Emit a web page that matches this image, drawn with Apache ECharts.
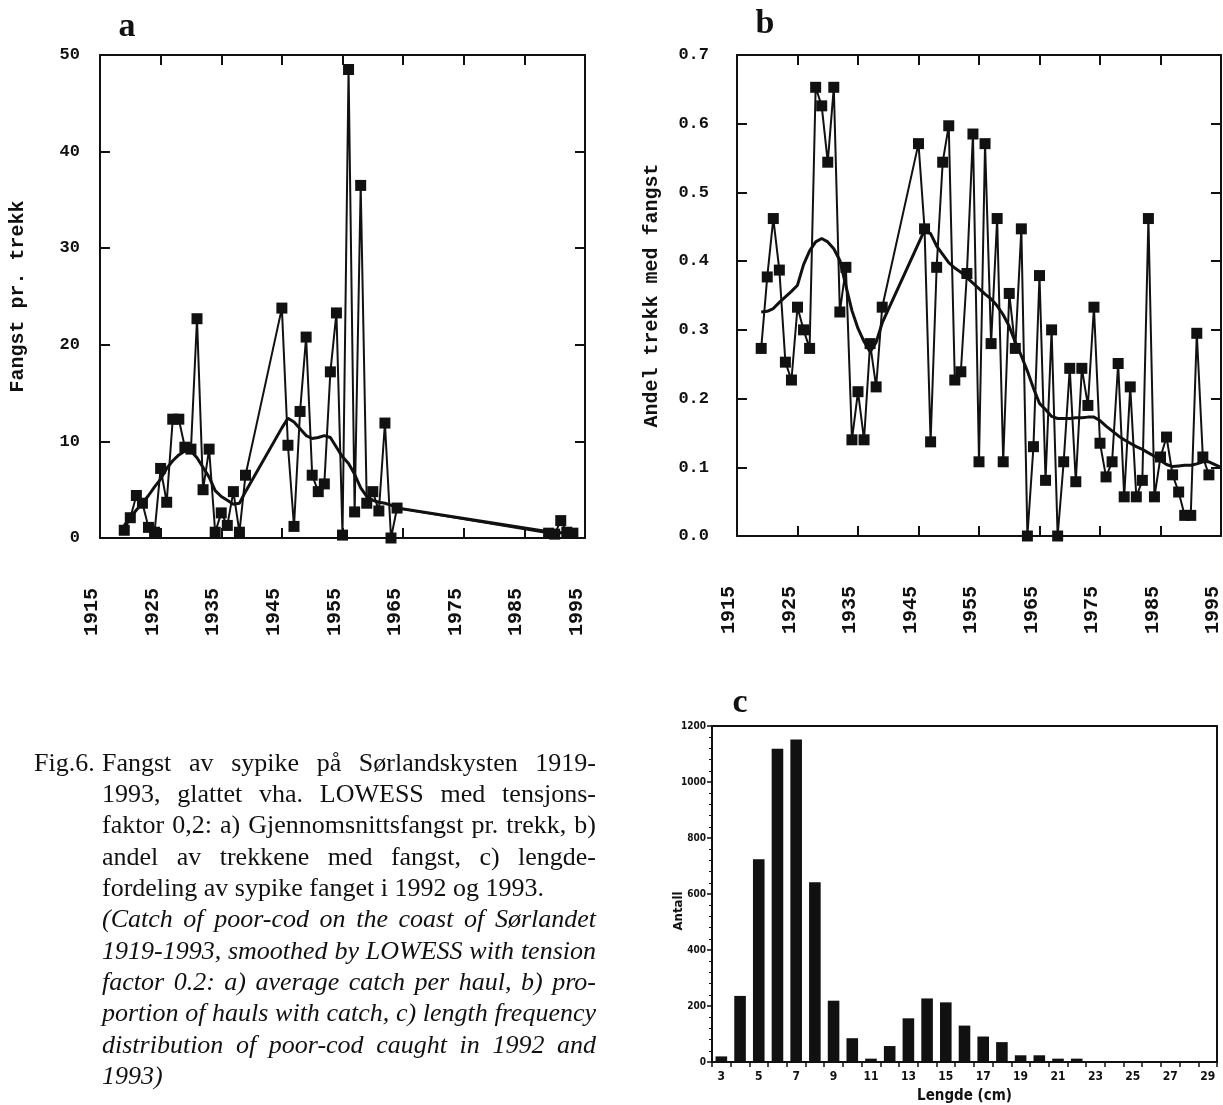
<!DOCTYPE html>
<html>
<head>
<meta charset="utf-8">
<script src="https://cdn.jsdelivr.net/npm/echarts@6/dist/echarts.min.js"></script>
<style>
  html, body { margin: 0; padding: 0; background: #fff; }
  #main { width: 1223px; height: 1105px; }
</style>
</head>
<body>
<div id="main"></div>
<script>
// a) average catch of poor-cod per haul, by year
const yearsA = [1919, 1920, 1921, 1922, 1923, 1924, 1925, 1926, 1927, 1928, 1929, 1930,
  1931, 1932, 1933, 1934, 1935, 1936, 1937, 1938, 1939,
  1945, 1946, 1947, 1948, 1949, 1950, 1951, 1952, 1953, 1954, 1955, 1956, 1957, 1958,
  1959, 1960, 1961, 1962, 1963, 1964,
  1989, 1990, 1991, 1992, 1993];
const catchA = [0.8, 2.1, 4.4, 3.6, 1.1, 0.6, 7.2, 3.7, 12.3, 12.3, 9.4, 9.2,
  22.7, 5.0, 9.2, 0.6, 2.6, 1.3, 4.8, 0.6, 6.5,
  23.8, 9.6, 1.2, 13.1, 20.8, 6.5, 4.8, 5.6, 17.2, 23.3, 0.3, 48.5, 2.7, 36.5,
  3.6, 4.8, 2.8, 11.9, 0, 3.1,
  0.5, 0.4, 1.8, 0.6, 0.5];
// LOWESS curve for a), one value per data year
const smoothA = [1.3, 2.1, 2.9, 3.6, 4.4, 5.3, 6.1, 7.2, 8.0, 8.6, 9.0, 9.0,
  8.3, 7.3, 6.3, 4.9, 4.3, 3.9, 3.5, 3.6, 4.8,
  11.4, 12.4, 12.0, 11.3, 10.6, 10.3, 10.4, 10.6, 10.4, 9.4, 8.4, 7.7, 6.6, 5.2,
  4.3, 3.9, 3.7, 3.6, 3.4, 3.1,
  0.65, 0.6, 0.55, 0.5, 0.45];

// b) share of hauls with catch, by year
const yearsB = [1919, 1920, 1921, 1922, 1923, 1924, 1925, 1926, 1927, 1928, 1929, 1930,
  1931, 1932, 1933, 1934, 1935, 1936, 1937, 1938, 1939,
  1945, 1946, 1947, 1948, 1949, 1950, 1951, 1952, 1953, 1954, 1955, 1956, 1957, 1958,
  1959, 1960, 1961, 1962, 1963, 1964, 1965, 1966, 1967, 1968, 1969, 1970, 1971, 1972,
  1973, 1974, 1975, 1976, 1977, 1978, 1979, 1980, 1981, 1982, 1983, 1984, 1985, 1986,
  1987, 1988, 1989, 1990, 1991, 1992, 1993];
const shareB = [0.273, 0.377, 0.462, 0.387, 0.253, 0.227, 0.333, 0.300, 0.273, 0.653, 0.626, 0.544,
  0.653, 0.326, 0.391, 0.140, 0.210, 0.140, 0.280, 0.217, 0.333,
  0.571, 0.447, 0.137, 0.391, 0.544, 0.597, 0.227, 0.239, 0.382, 0.585, 0.108, 0.571, 0.280, 0.462,
  0.108, 0.353, 0.273, 0.447, 0.000, 0.130, 0.379, 0.081, 0.300, 0.000, 0.108, 0.244, 0.079, 0.244,
  0.190, 0.333, 0.135, 0.086, 0.108, 0.251, 0.057, 0.217, 0.057, 0.081, 0.462, 0.057, 0.115, 0.144,
  0.089, 0.064, 0.030, 0.030, 0.295, 0.115, 0.089];
// LOWESS curve for b); the curve is drawn on to the right edge of the frame
const smoothYearsB = yearsB.concat([1995]);
const smoothB = [0.326, 0.327, 0.331, 0.340, 0.348, 0.356, 0.365, 0.395, 0.415, 0.428, 0.433, 0.428,
  0.418, 0.401, 0.364, 0.328, 0.302, 0.283, 0.268, 0.282, 0.310,
  0.426, 0.445, 0.440, 0.422, 0.410, 0.398, 0.390, 0.384, 0.376, 0.368, 0.360, 0.352, 0.345, 0.335,
  0.322, 0.305, 0.282, 0.262, 0.240, 0.215, 0.193, 0.184, 0.174, 0.171, 0.171, 0.171, 0.172, 0.172,
  0.173, 0.173, 0.168, 0.160, 0.153, 0.146, 0.140, 0.135, 0.130, 0.126, 0.121, 0.116, 0.110, 0.104,
  0.101, 0.102, 0.103, 0.103, 0.105, 0.108, 0.108, 0.100];

// c) length distribution of poor-cod caught in 1992 and 1993
const lengthCm = ['3', '4', '5', '6', '7', '8', '9', '10', '11', '12', '13', '14', '15', '16',
  '17', '18', '19', '20', '21', '22', '23', '24', '25', '26', '27', '28', '29'];
const countC = [20, 236, 724, 1119, 1152, 642, 219, 85, 12, 57, 156, 227, 213, 130,
  91, 71, 24, 24, 12, 12, 3, 3, 3, 3, 1, 3, 3];

const captionLead = 'Fig.6.';
const captionNo = [
  'Fangst av sypike på Sørlandskysten 1919-',
  '1993, glattet vha. LOWESS med tensjons-',
  'faktor 0,2: a) Gjennomsnittsfangst pr. trekk, b)',
  'andel av trekkene med fangst, c) lengde-',
  'fordeling av sypike fanget i 1992 og 1993.'
];
const captionEn = [
  '(Catch of poor-cod on the coast of Sørlandet',
  '1919-1993, smoothed by LOWESS with tension',
  'factor 0.2: a) average catch per haul, b) pro-',
  'portion of hauls with catch, c) length frequency',
  'distribution of poor-cod caught in 1992 and',
  '1993)'
];

const INK = '#111';
const MONO = '"Liberation Mono", "DejaVu Sans Mono", monospace';
const SERIF = '"Liberation Serif", "DejaVu Serif", serif';
const SANS_C = '"DejaVu Sans Condensed", "DejaVu Sans", sans-serif';
const plain = v => String(v);

const frameLine = { show: true, onZero: false, lineStyle: { color: INK, width: 2 } };
const innerTick = { show: true, inside: true, length: 10, lineStyle: { color: INK, width: 2 } };

function yearAxes(gridIndex) {
  const base = { gridIndex, type: 'value', min: 1915, max: 1995, interval: 10,
    axisLine: frameLine, axisTick: innerTick, splitLine: { show: false } };
  return [
    Object.assign({}, base, { position: 'bottom',
      axisLabel: { rotate: 90, margin: 50, color: INK, fontFamily: MONO, fontWeight: 'bold',
        fontSize: 20, verticalAlign: 'bottom', lineHeight: 16, formatter: plain,
        showMinLabel: true, showMaxLabel: true } }),
    Object.assign({}, base, { position: 'top', axisLabel: { show: false } })
  ];
}

function valueAxes(gridIndex, max, interval, name, nameGap, margin, digits) {
  const base = { gridIndex, type: 'value', min: 0, max, interval,
    axisLine: frameLine, axisTick: innerTick, splitLine: { show: false } };
  return [
    Object.assign({}, base, { position: 'left', name, nameLocation: 'middle', nameGap,
      nameTextStyle: { color: INK, fontFamily: MONO, fontWeight: 'bold', fontSize: 20 },
      axisLabel: { margin, color: INK, fontFamily: MONO, fontWeight: 'bold', fontSize: 17,
        formatter: v => v.toFixed(digits) } }),
    Object.assign({}, base, { position: 'right', axisLabel: { show: false } })
  ];
}

function pairs(xs, ys) { return xs.map((x, i) => [x, ys[i]]); }

function markedLine(axisIndex, xs, ys) {
  return { type: 'line', xAxisIndex: axisIndex, yAxisIndex: axisIndex, data: pairs(xs, ys),
    symbol: 'rect', symbolSize: 11, clip: false, z: 3,
    lineStyle: { color: INK, width: 2 }, itemStyle: { color: INK } };
}
function smoothLine(axisIndex, xs, ys) {
  return { type: 'line', xAxisIndex: axisIndex, yAxisIndex: axisIndex, data: pairs(xs, ys),
    symbol: 'none', clip: false, z: 2, lineStyle: { color: INK, width: 3 } };
}

// justified caption, set word by word
const measure = document.createElement('canvas').getContext('2d');
function captionWords(line, y, font, x0, x1, justify) {
  measure.font = font;
  const words = line.split(' ');
  const widths = words.map(w => measure.measureText(w).width);
  const natural = widths.reduce((a, b) => a + b, 0);
  const space = measure.measureText(' ').width;
  const gap = (justify && words.length > 1) ? Math.max(2, (x1 - x0 - natural) / (words.length - 1)) : space;
  const out = [];
  let x = x0;
  words.forEach((w, i) => {
    out.push({ type: 'text', x, y, silent: true,
      style: { text: w, font, fill: INK, align: 'left', verticalAlign: 'middle' } });
    x += widths[i] + gap;
  });
  return out;
}

const CAP_X0 = 102, CAP_X1 = 596, CAP_Y0 = 764, CAP_LH = 31.3;
const roman = '26px ' + SERIF;
const italic = 'italic 26px ' + SERIF;
let captionGraphics = [{ type: 'text', x: 34, y: CAP_Y0, silent: true,
  style: { text: captionLead, font: roman, fill: INK, align: 'left', verticalAlign: 'middle' } }];
captionNo.forEach((line, i) => {
  captionGraphics = captionGraphics.concat(captionWords(line, CAP_Y0 + i * CAP_LH, roman,
    CAP_X0, CAP_X1, i < captionNo.length - 1));
});
captionEn.forEach((line, i) => {
  captionGraphics = captionGraphics.concat(captionWords(line, CAP_Y0 + (i + captionNo.length) * CAP_LH,
    italic, CAP_X0, CAP_X1, i < captionEn.length - 1));
});

function panelLetter(text, x, y) {
  return { type: 'text', x, y, silent: true,
    style: { text, font: 'bold 34px ' + SERIF, fill: INK, align: 'center', verticalAlign: 'middle' } };
}

const [xA, xAtop] = yearAxes(0);
const [xB, xBtop] = yearAxes(1);
const [yA, yAright] = valueAxes(0, 50, 10, 'Fangst pr. trekk', 72, 20, 0);
const [yB, yBright] = valueAxes(1, 0.7, 0.1, 'Andel trekk med fangst', 75, 28, 1);

const option = {
  animation: false,
  backgroundColor: '#fff',
  grid: [
    { left: 100, top: 55, width: 485, height: 483 },
    { left: 737, top: 55, width: 484, height: 481 },
    { left: 712, top: 726, width: 505, height: 337 }
  ],
  xAxis: [
    xA, xAtop, xB, xBtop,
    { gridIndex: 2, type: 'category', data: lengthCm, position: 'bottom',
      axisLine: frameLine,
      axisTick: { show: true, interval: 0, length: 5, lineStyle: { color: INK, width: 1.5 } },
      axisLabel: { interval: 1, margin: 9, color: INK, fontFamily: SANS_C, fontWeight: 'bold', fontSize: 12 },
      name: 'Lengde (cm)', nameLocation: 'middle', nameGap: 27,
      nameTextStyle: { color: INK, fontFamily: SANS_C, fontWeight: 'bold', fontSize: 15 } },
    { gridIndex: 2, type: 'value', min: 0, max: 1, position: 'top', axisLine: frameLine,
      axisTick: { show: false }, axisLabel: { show: false }, splitLine: { show: false } }
  ],
  yAxis: [
    yA, yAright, yB, yBright,
    { gridIndex: 2, type: 'value', min: 0, max: 1200, interval: 200, position: 'left',
      axisLine: frameLine,
      axisTick: { show: true, length: 5, lineStyle: { color: INK, width: 1.5 } },
      minorTick: { show: true, splitNumber: 5, length: 3, lineStyle: { color: INK, width: 1 } },
      axisLabel: { margin: 6, color: INK, fontFamily: SANS_C, fontWeight: 'bold', fontSize: 10,
        formatter: plain },
      splitLine: { show: false },
      name: 'Antall', nameLocation: 'middle', nameGap: 27, nameMoveOverlap: false,
      nameTextStyle: { color: INK, fontFamily: SANS_C, fontWeight: 'bold', fontSize: 13,
        padding: [0, 34, 0, 0] } },
    { gridIndex: 2, type: 'value', min: 0, max: 1200, position: 'right', axisLine: frameLine,
      axisTick: { show: false }, axisLabel: { show: false }, splitLine: { show: false } }
  ],
  series: [
    smoothLine(0, yearsA, smoothA),
    markedLine(0, yearsA, catchA),
    smoothLine(2, smoothYearsB, smoothB),
    markedLine(2, yearsB, shareB),
    { type: 'bar', xAxisIndex: 4, yAxisIndex: 4, data: countC, barWidth: '62%',
      itemStyle: { color: INK } }
  ],
  graphic: [
    panelLetter('a', 127, 27),
    panelLetter('b', 765, 24),
    panelLetter('c', 740, 703)
  ].concat(captionGraphics)
};

const chart = echarts.init(document.getElementById('main'), null, { renderer: 'canvas' });
chart.setOption(option);
</script>
</body>
</html>
